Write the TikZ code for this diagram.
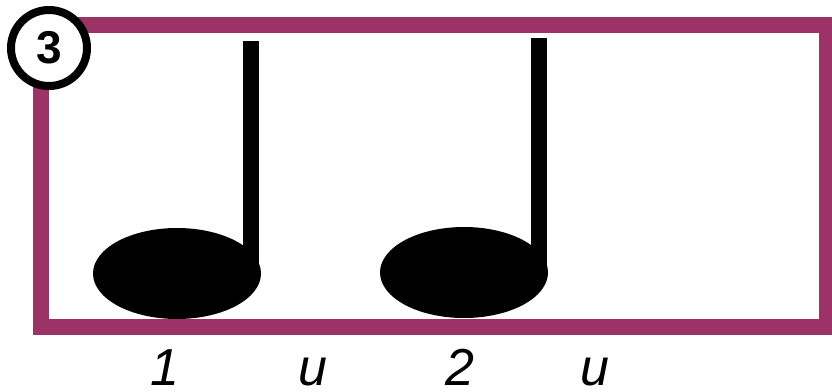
\documentclass[tikz,border=0pt]{standalone}
\usepackage{fontspec}
\setmainfont{Liberation Sans}
\definecolor{frame}{HTML}{9B3366}
\begin{document}
\begin{tikzpicture}[x=1pt,y=-1pt,
  notehead/.style={fill=black,draw=none,ellipse},
  stemline/.style={line width=16pt,black},
  beatlabel/.style={anchor=base,inner sep=0pt,font=\fontsize{52}{60}\selectfont\itshape}]
\useasboundingbox (0,0) rectangle (832,391);
\fill[white] (0,0) rectangle (832,391);
\draw[frame,line width=16pt] (41,25) rectangle (827,327);
% notes
\coordinate (s1top) at (251,41);
\coordinate (s1bot) at (251,272);
\coordinate (s2top) at (539,38);
\coordinate (s2bot) at (539,272);
\draw[stemline] (s1top) -- (s1bot);
\draw[stemline] (s2top) -- (s2bot);
\fill (177,273.5) ellipse [x radius=84, y radius=45.5];
\fill (464,272.5) ellipse [x radius=84, y radius=45.5];
% number badge
\node[circle,draw=black,line width=8pt,fill=white,minimum size=76pt,inner sep=0pt,
  font=\fontsize{46}{50}\selectfont\bfseries] (badge) at (49,48) {3};
% labels
\node[beatlabel] (l1) at (165,385) {1};
\node[beatlabel] (l2) at (313,385) {u};
\node[beatlabel] (l3) at (460,385) {2};
\node[beatlabel] (l4) at (595,385) {u};
\end{tikzpicture}
\end{document}
